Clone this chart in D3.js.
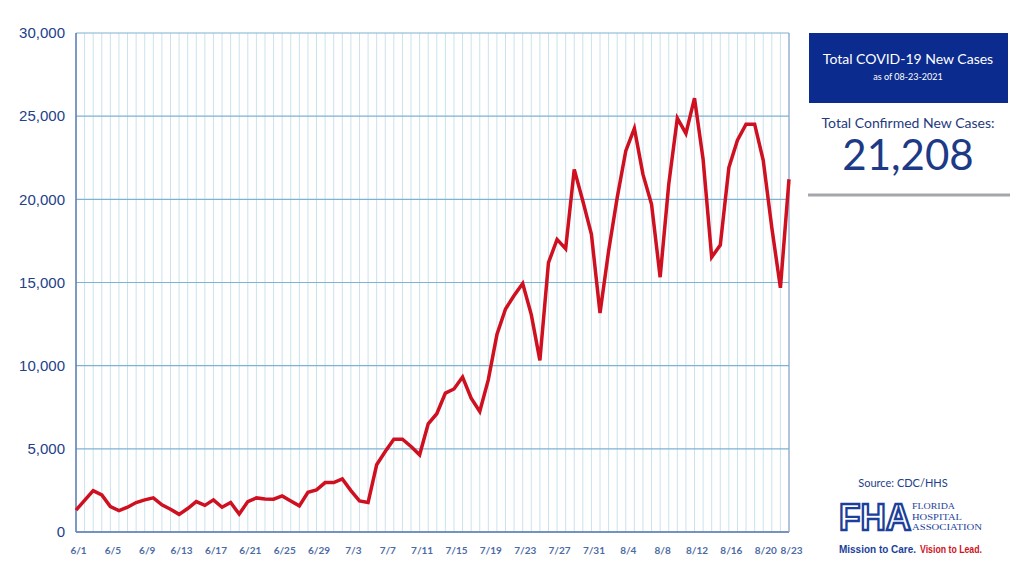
<!DOCTYPE html>
<html lang="en">
<head>
<meta charset="utf-8">
<title>Total COVID-19 New Cases</title>
<script src="https://d3js.org/d3.v7.min.js"></script>
<style>
  body { margin: 0; background: #fff; }
  svg { display: block; }
</style>
</head>
<body>
<svg class="chart" width="1024" height="576"></svg>
<script>
// data (daily new cases, 6/1 .. 8/23/2021)
var cases = [
  1320, 1900, 2490, 2230, 1530, 1290, 1490, 1770, 1930, 2050,
  1630, 1370, 1060, 1410, 1830, 1600, 1930, 1490, 1770, 1080,
  1830, 2050, 1990, 1970, 2170, 1870, 1570, 2390, 2530, 2970,
  2970, 3190, 2490, 1870, 1770, 4040, 4840, 5580, 5580, 5140,
  4640, 6500, 7110, 8350, 8600, 9320, 8050, 7250, 9160, 11870,
  13410, 14220, 14940, 13070, 10320, 16190, 17590, 17030, 21800, 19900,
  17890, 13170, 16890, 20100, 22910, 24260, 21500, 19700, 15320, 20900,
  24880, 23960, 26080, 22410, 16520, 17250, 21910, 23550, 24520, 24520,
  22350, 18290, 14680, 21208
];
var yTicks = [0, 5000, 10000, 15000, 20000, 25000, 30000];
var xLabelDays = [0, 4, 8, 12, 16, 20, 24, 28, 32, 36, 40, 44, 48, 52, 56, 60, 64, 68, 72, 76, 80, 83];

var startDate = new Date(2021, 5, 1);
var dates = cases.map(function(d, i) { return d3.timeDay.offset(startDate, i); });

var svg = d3.select(".chart");

var margin = {top: 33, right: 235, bottom: 44, left: 76};
var width = 1024 - margin.left - margin.right;
var height = 576 - margin.top - margin.bottom;

var chart = svg.append("g")
  .attr("transform", "translate(" + margin.left + "," + margin.top + ")");

var x = d3.scaleTime()
  .domain([dates[0], dates[dates.length - 1]])
  .range([0, width]);

var y = d3.scaleLinear()
  .domain([0, 30000])
  .range([height, 0]);

//daily vertical grid lines
chart.append("g")
  .selectAll("line")
  .data(dates)
  .enter().append("line")
  .attr("x1", function(d) { return x(d); })
  .attr("x2", function(d) { return x(d); })
  .attr("y1", 0)
  .attr("y2", height)
  .style("stroke", "#cbe2ee")
  .style("stroke-width", 1);

//horizontal grid lines
chart.append("g")
  .selectAll("line")
  .data(yTicks)
  .enter().append("line")
  .attr("x1", 0)
  .attr("x2", width)
  .attr("y1", function(d) { return y(d); })
  .attr("y2", function(d) { return y(d); })
  .style("stroke", "#7eb2d2")
  .style("stroke-width", 1.2);

//frame: left, bottom, right
chart.append("line").attr("x1", 0).attr("x2", 0).attr("y1", 0).attr("y2", height)
  .style("stroke", "#5d7db5").style("stroke-width", 1.5);
chart.append("line").attr("x1", 0).attr("x2", width).attr("y1", height).attr("y2", height)
  .style("stroke", "#5d7db5").style("stroke-width", 1.5);
chart.append("line").attr("x1", width).attr("x2", width).attr("y1", 0).attr("y2", height)
  .style("stroke", "#8fa6c8").style("stroke-width", 1.2);

//left axis
var yAxis = d3.axisLeft(y)
  .tickValues(yTicks)
  .tickSize(0)
  .tickPadding(11)
  .tickFormat(d3.format(","));

chart.append("g")
  .attr("class", "yAxis")
  .call(yAxis)
  .call(function(g) { g.select(".domain").remove(); })
  .selectAll("text")
  .style("font-family", "'Liberation Sans', Arial, sans-serif")
  .style("font-size", "15px")
  .style("fill", "#22418a");

//bottom axis
var xAxis = d3.axisBottom(x)
  .tickValues(xLabelDays.map(function(i) { return dates[i]; }))
  .tickSize(0)
  .tickPadding(15)
  .tickFormat(function(d) { return (d.getMonth() + 1) + "/" + d.getDate(); });

chart.append("g")
  .attr("class", "xAxis")
  .attr("transform", "translate(0," + height + ")")
  .call(xAxis)
  .call(function(g) { g.select(".domain").remove(); })
  .selectAll("text")
  .attr("dx", "2px")
  .style("font-family", "Lato, sans-serif")
  .style("font-weight", "bold")
  .style("font-size", "10px")
  .style("fill", "#4c6ba3");

//the line
var line = d3.line()
  .x(function(d, i) { return x(dates[i]); })
  .y(function(d) { return y(d); });

chart.append("path")
  .datum(cases)
  .attr("d", line)
  .style("fill", "none")
  .style("stroke", "#cf1020")
  .style("stroke-width", 3.5)
  .style("stroke-linejoin", "miter");

//right panel
var panel = svg.append("g");
var cx = 908;

panel.append("rect")
  .attr("x", 809).attr("y", 33)
  .attr("width", 199).attr("height", 70)
  .style("fill", "#0b2b8f");

panel.append("text")
  .attr("x", cx).attr("y", 64)
  .attr("text-anchor", "middle")
  .style("font-family", "Lato, sans-serif")
  .style("font-size", "14px")
  .style("fill", "#fff")
  .text("Total COVID-19 New Cases");

panel.append("text")
  .attr("x", cx).attr("y", 80)
  .attr("text-anchor", "middle")
  .style("font-family", "Lato, sans-serif")
  .style("font-size", "9px")
  .style("fill", "#fff")
  .text("as of 08-23-2021");

panel.append("text")
  .attr("x", cx).attr("y", 128)
  .attr("text-anchor", "middle")
  .style("font-family", "Lato, sans-serif")
  .style("font-size", "14px")
  .style("fill", "#1f3a7e")
  .text("Total Confirmed New Cases:");

panel.append("text")
  .attr("x", cx).attr("y", 170)
  .attr("text-anchor", "middle")
  .style("font-family", "Lato, sans-serif")
  .style("font-size", "42px")
  .style("fill", "#1d3a86")
  .text(d3.format(",")(cases[cases.length - 1]));

panel.append("line")
  .attr("x1", 808).attr("x2", 1010)
  .attr("y1", 195).attr("y2", 195)
  .style("stroke", "#a3a7ab")
  .style("stroke-width", 3);

panel.append("text")
  .attr("x", 903).attr("y", 487)
  .attr("text-anchor", "middle")
  .style("font-family", "Lato, sans-serif")
  .style("font-size", "11px")
  .style("fill", "#23418a")
  .text("Source: CDC/HHS");

//logo
panel.append("text")
  .attr("x", 839).attr("y", 530)
  .attr("textLength", 72)
  .attr("lengthAdjust", "spacingAndGlyphs")
  .style("font-family", "'Liberation Sans', Arial, sans-serif")
  .style("font-weight", "bold")
  .style("font-size", "37px")
  .style("fill", "#fff")
  .style("stroke", "#1b3f9a")
  .style("stroke-width", 2.4)
  .text("FHA");

//org name, three small serif lines
var orgLines = ["FLORIDA", "HOSPITAL", "ASSOCIATION"];
var orgWidths = [43, 50, 70];
panel.append("g").selectAll("text")
  .data(orgLines)
  .enter().append("text")
  .attr("x", 912)
  .attr("y", function(d, i) { return 509 + i * 10.5; })
  .attr("textLength", function(d, i) { return orgWidths[i]; })
  .attr("lengthAdjust", "spacingAndGlyphs")
  .style("font-family", "'Liberation Serif', serif")
  .style("font-size", "9.2px")
  .style("fill", "#1b3f9a")
  .text(function(d) { return d; });

//tagline, two parts
var tagParts = ["Mission to Care.", "Vision to Lead."];
var tagX = [839, 920];
var tagW = [77, 62];
var tagFill = ["#1b3f9a", "#d0121b"];
panel.append("g").selectAll("text")
  .data(tagParts)
  .enter().append("text")
  .attr("x", function(d, i) { return tagX[i]; })
  .attr("y", 553)
  .attr("textLength", function(d, i) { return tagW[i]; })
  .attr("lengthAdjust", "spacingAndGlyphs")
  .style("font-family", "'Liberation Sans', Arial, sans-serif")
  .style("font-weight", "bold")
  .style("font-size", "10.5px")
  .style("fill", function(d, i) { return tagFill[i]; })
  .text(function(d) { return d; });
</script>
</body>
</html>
